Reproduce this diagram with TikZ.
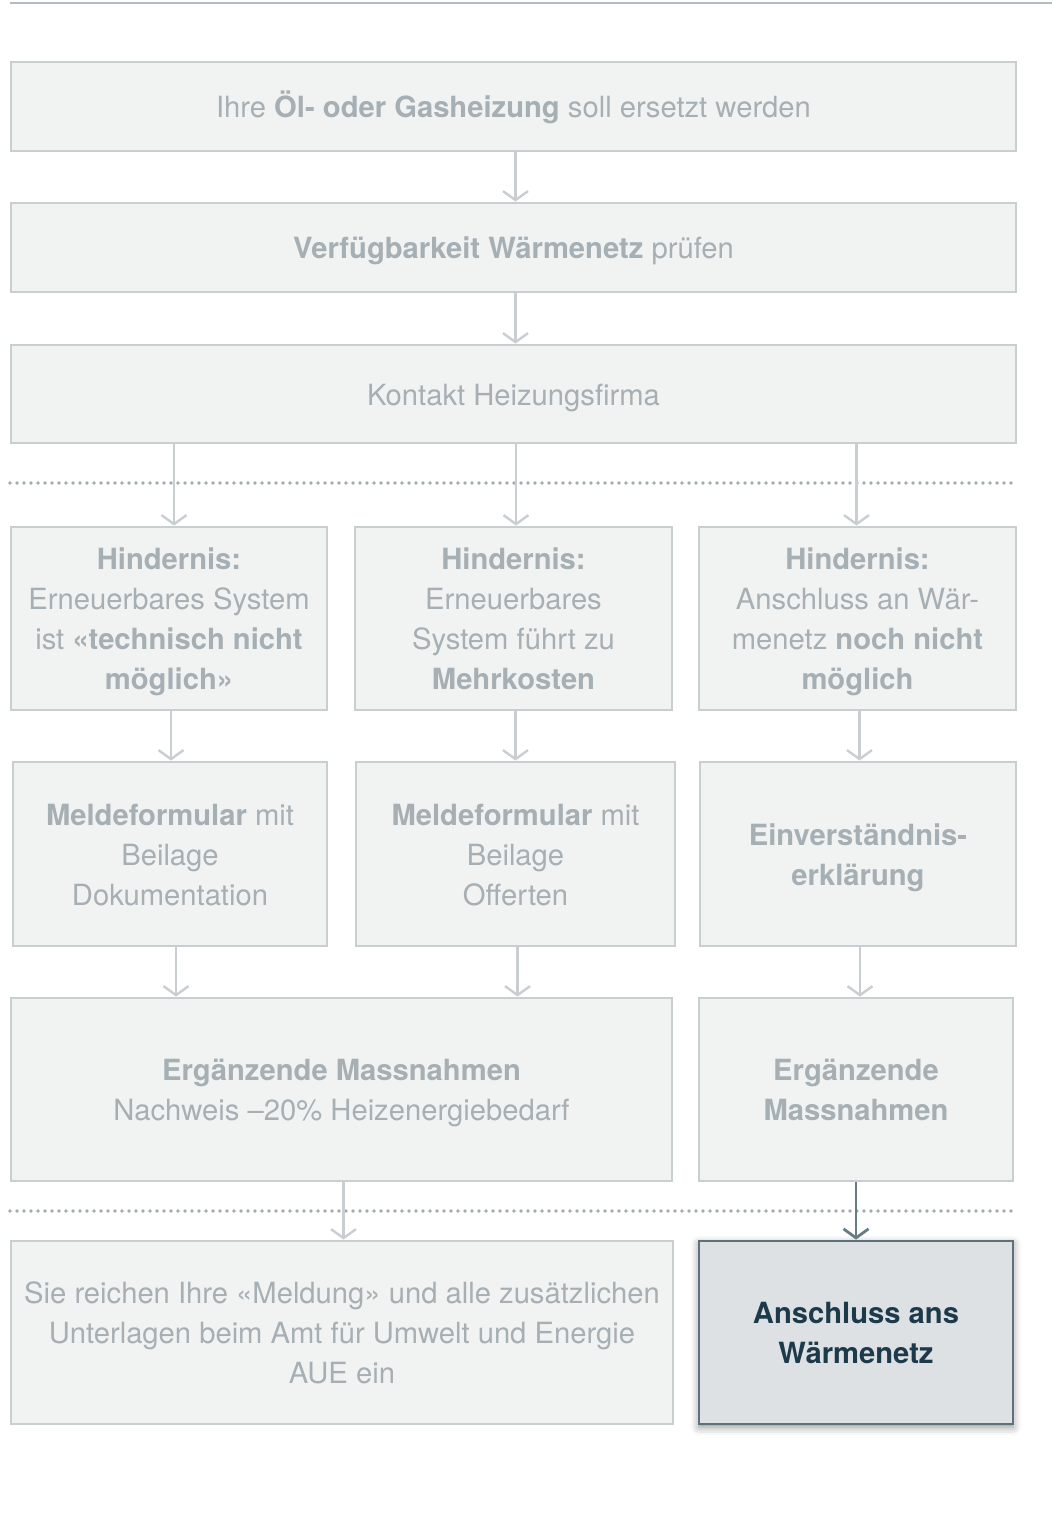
\documentclass[tikz,border=0pt]{standalone}
\usepackage{fontspec}
\setmainfont{TeX Gyre Heros}
\usetikzlibrary{arrows.meta,shadows.blur}
\definecolor{rulegray}{HTML}{B4BBBF}
\definecolor{boxfill}{HTML}{F1F2F2}
\definecolor{boxline}{HTML}{C9CED1}
\definecolor{boxtext}{HTML}{A6AFB4}
\definecolor{sepgray}{HTML}{A0A9AE}
\definecolor{hlfill}{HTML}{DDE1E4}
\definecolor{hlline}{HTML}{5E707A}
\definecolor{hltext}{HTML}{1D3A4A}
\definecolor{hlarrow}{HTML}{687C86}
\tikzset{
  lines/.code={\pgfmathsetmacro\linesH{20*#1-5}\pgfkeysalso{text depth=4pt,text height=\linesH pt}},
  box/.style={draw=boxline,fill=boxfill,line width=1.4pt,text=boxtext,align=center,
    inner sep=0pt,font=\fontsize{14.6}{20}\selectfont,lines=1},
  hlbox/.style={box,draw=hlline,fill=hlfill,text=hltext,
    blur shadow={shadow xshift=0pt,shadow yshift=-1.5pt,shadow blur radius=4pt,shadow opacity=45}},
  flow/.style={draw=boxline,line width=1.2pt,-{Straight Barb[length=4.5pt,width=12.5pt]}},
  hlflow/.style={flow,draw=hlarrow,line width=1.4pt},
  sepline/.style={draw=sepgray,line width=1.8pt,line cap=round,dash pattern=on 0pt off 3.5pt}
}
\begin{document}
\begin{tikzpicture}[x=0.5pt,y=-0.5pt]
\useasboundingbox (0,0) rectangle (1052,1519);
\draw[rulegray,line width=1pt](10,3)--(1052,3);
\foreach \y in {483,1211}{\draw[sepline](10,\y)--(1016,\y);}
% first column of steps
\node[box,minimum width=502.5pt,minimum height=44.5pt](top) at (513.5,106.5){Ihre \textbf{Öl- oder Gasheizung} soll ersetzt werden};
\node[box,minimum width=502.5pt,minimum height=44.5pt](avail) at (513.5,247.5){\textbf{Verfügbarkeit Wärmenetz} prüfen};
\node[box,minimum width=502.5pt,minimum height=49pt](kontakt) at (513.5,394){Kontakt Heizungsfirma};
% obstacles
\node[box,lines=4,minimum width=158pt,minimum height=91.5pt](hA) at (169,618.5){\textbf{Hindernis:}\\Erneuerbares System\\ist \textbf{«technisch nicht}\\\textbf{möglich»}};
\node[box,lines=4,minimum width=158.5pt,minimum height=91.5pt](hB) at (513.5,618.5){\textbf{Hindernis:}\\Erneuerbares\\System führt zu\\\textbf{Mehrkosten}};
\node[box,lines=4,minimum width=158.5pt,minimum height=91.5pt](hC) at (857.5,618.5){\textbf{Hindernis:}\\Anschluss an Wär-\\menetz \textbf{noch nicht}\\\textbf{möglich}};
% forms
\node[box,lines=3,minimum width=157pt,minimum height=92pt](mA) at (170,854){\textbf{Meldeformular} mit\\Beilage\\Dokumentation};
\node[box,lines=3,minimum width=159.5pt,minimum height=92pt](mB) at (515.5,854){\textbf{Meldeformular} mit\\Beilage\\Offerten};
\node[box,lines=2,minimum width=158pt,minimum height=92pt](mC) at (858,854){\textbf{Einverständnis-}\\\textbf{erklärung}};
% measures
\node[box,lines=2,minimum width=330.5pt,minimum height=91.5pt](eA) at (341.5,1089.5){\textbf{Ergänzende Massnahmen}\\Nachweis –20\% Heizenergiebedarf};
\node[box,lines=2,minimum width=157pt,minimum height=91.5pt](eC) at (856,1089.5){\textbf{Ergänzende}\\\textbf{Massnahmen}};
% result
\node[box,lines=3,minimum width=331pt,minimum height=91.5pt](sA) at (342,1332.5){Sie reichen Ihre «Meldung» und alle zusätzlichen\\Unterlagen beim Amt für Umwelt und Energie\\AUE ein};
\node[hlbox,lines=2,minimum width=157pt,minimum height=91.5pt](sC) at (856,1332.5){\textbf{Anschluss ans}\\\textbf{Wärmenetz}};
% arrows
\foreach \a/\b in {top/avail,avail/kontakt,hA/mA,hB/mB,hC/mC,mC/eC,eA/sA}{\draw[flow]([xshift=1pt]\a.south)--([xshift=1pt]\a.south |- \b.north);}
\foreach \b/\s in {hA/2.5,hB/1.25,hC/-0.5}{\draw[flow]([xshift=\s pt]\b.north |- kontakt.south)--([xshift=\s pt]\b.north);}
\foreach \a/\s in {mA/3,mB/1}{\draw[flow]([xshift=\s pt]\a.south)--([xshift=\s pt]\a.south |- eA.north);}
\draw[hlflow](eC.south)--(sC.north);
\end{tikzpicture}
\end{document}
